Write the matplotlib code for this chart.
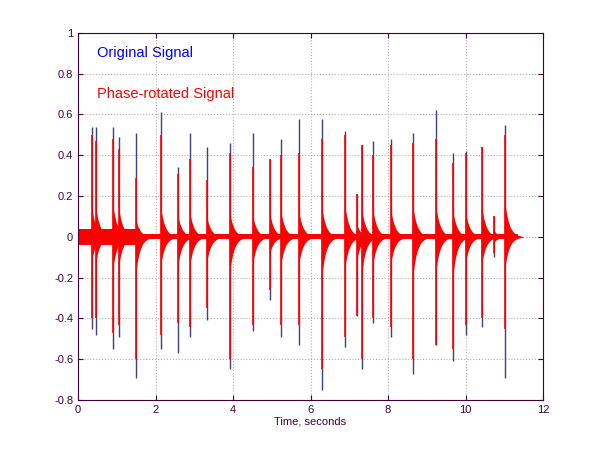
import numpy as np
import matplotlib
matplotlib.use("Agg")
import matplotlib.pyplot as plt

# transient events
onsets = [0.35, 0.46, 0.91, 1.06, 1.49, 2.13, 2.59, 2.89, 3.34, 3.91, 4.51, 4.95, 5.24, 5.70,
          6.29, 6.89, 7.19, 7.32, 7.62, 8.07, 8.65, 9.24, 9.69, 10.0, 10.43, 10.74, 11.03]
orig_pos = [0.54, 0.54, 0.54, 0.49, 0.51, 0.61, 0.34, 0.51, 0.44, 0.46, 0.51, 0.38, 0.48, 0.58,
            0.58, 0.52, 0.21, 0.45, 0.47, 0.48, 0.51, 0.62, 0.41, 0.42, 0.44, 0.10, 0.55]
orig_neg = [-0.45, -0.48, -0.55, -0.49, -0.69, -0.55, -0.57, -0.49, -0.41, -0.65, -0.46, -0.31, -0.49, -0.53,
            -0.75, -0.54, -0.39, -0.65, -0.42, -0.49, -0.67, -0.53, -0.61, -0.48, -0.44, -0.10, -0.69]
rot_pos = [0.50, 0.47, 0.48, 0.43, 0.29, 0.50, 0.31, 0.38, 0.28, 0.41, 0.34, 0.38, 0.40, 0.41,
           0.48, 0.50, 0.21, 0.45, 0.40, 0.45, 0.46, 0.48, 0.36, 0.41, 0.44, 0.10, 0.50]
rot_neg = [-0.40, -0.40, -0.47, -0.43, -0.60, -0.48, -0.42, -0.44, -0.35, -0.60, -0.43, -0.26, -0.43, -0.43,
           -0.65, -0.49, -0.39, -0.60, -0.40, -0.44, -0.60, -0.53, -0.55, -0.43, -0.40, -0.08, -0.45]
signal_end = 11.35
noise_level = 0.012
early_end = 1.6
early_level = 0.04
xticks = [0, 2, 4, 6, 8, 10, 12]
yticks = [-0.8, -0.6, -0.4, -0.2, 0, 0.2, 0.4, 0.6, 0.8, 1]

plt.rcParams["font.family"] = "Liberation Sans"
fig = plt.figure(figsize=(6, 4.5), dpi=100)
ax = fig.add_axes([0.13, 0.111, 0.775, 0.816])
axc = "#400040"

ax.fill_between([0, signal_end], -noise_level, noise_level, color="red", lw=0, zorder=2)
ax.fill_between([0.02, early_end], -early_level, early_level, color="red", lw=0, zorder=2)
for t0, p, n in zip(onsets, rot_pos, rot_neg):
    tt = np.linspace(t0, t0 + 0.45, 80)
    env = np.exp(-(tt - t0) / 0.11)
    ax.fill_between(tt, 0.3 * n * env, 0.3 * p * env, color="red", lw=0, zorder=2)
ax.vlines(onsets, orig_neg, orig_pos, color="#404080", lw=1.0, zorder=1)
ax.vlines(onsets, rot_neg, rot_pos, color="red", lw=1.2, zorder=3)

ax.text(0.5, 0.9, "Original Signal", color="blue", fontsize=10.5, va="center")
ax.text(0.5, 0.7, "Phase-rotated Signal", color="red", fontsize=10.5, va="center")

ax.set_xlim(0, 12)
ax.set_ylim(-0.8, 1)
ax.set_xticks(xticks)
ax.set_yticks(yticks)
ax.set_yticklabels(["-0.8", "-0.6", "-0.4", "-0.2", "0", "0.2", "0.4", "0.6", "0.8", "1"])
ax.grid(True, ls=":", color="#b0b0b0", lw=0.8)
ax.set_axisbelow(True)
ax.tick_params(colors=axc, labelsize=8, direction="in", labelcolor=axc, top=True, right=True)
for s in ax.spines.values():
    s.set_color(axc)
ax.set_xlabel("Time, seconds", fontsize=8, labelpad=1, color=axc)
fig.savefig("out.png")
